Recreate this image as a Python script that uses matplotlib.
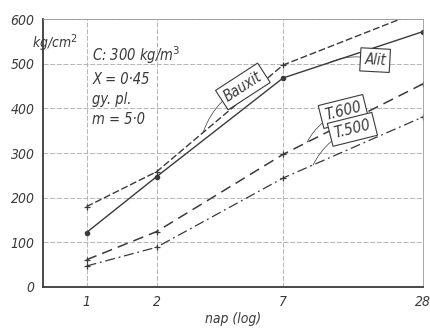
import numpy as np
import matplotlib.pyplot as plt

# napok (log skala)
days = [1, 2, 7, 28]
bauxit = [180, 258, 497, 620]
alit = [122, 247, 468, 572]
t600 = [61, 124, 297, 455]
t500 = [47, 89, 244, 381]

yticks = [0, 100, 200, 300, 400, 500, 600]
ink = '#3a3a3a'
fnt = dict(family='DejaVu Sans', style='italic', stretch='condensed', color=ink)

fig = plt.figure(figsize=(4.31, 3.28), dpi=100)
ax = fig.add_axes([0.0998, 0.125, 0.882, 0.817])

ax.plot(days, bauxit, color=ink, lw=1.0, dashes=(5, 2), marker='+', ms=5, mew=0.9)
ax.plot(days, alit, color=ink, lw=1.0, marker='o', ms=3)
ax.plot(days, t600, color=ink, lw=1.1, dashes=(7, 4), marker='+', ms=5, mew=0.9)
ax.plot(days, t500, color=ink, lw=0.9, dashes=(8, 3, 1.5, 3), marker='+', ms=5, mew=0.9)

ax.set_xscale('log')
ax.set_xlim(0.65, 28)
ax.set_ylim(0, 600)
ax.set_xticks(days)
ax.set_xticklabels(['1', '2', '7', '28'], **fnt, fontsize=10)
ax.minorticks_off()
ax.set_yticks(yticks)
ax.set_yticklabels([str(v) for v in yticks], **fnt, fontsize=10)
ax.tick_params(length=0, pad=6)
ax.grid(True, color='#aaaaaa', lw=0.6, ls=(0, (6, 2)))

for s in ['top', 'right']:
    ax.spines[s].set_color('#999999')
    ax.spines[s].set_linewidth(0.6)
for s in ['left', 'bottom']:
    ax.spines[s].set_color(ink)
    ax.spines[s].set_linewidth(1.3)

ax.set_xlabel('nap (log)', **fnt, fontsize=10, labelpad=2)
ax.text(-0.03, 0.95, 'kg/cm$^2$', transform=ax.transAxes, va='top', ha='left', fontsize=10, **fnt)

ax.text(0.13, 0.905, 'C: 300 kg/m$^3$\nX = 0·45\ngy. pl.\nm = 5·0', transform=ax.transAxes,
        va='top', ha='left', fontsize=10.5, linespacing=1.45, **fnt)

box = dict(boxstyle='square,pad=0.28', fc='white', ec=ink, lw=0.8)
arrow = dict(arrowstyle='-', color=ink, lw=0.5, connectionstyle='arc3,rad=0.2', shrinkA=0, shrinkB=0)
ax.annotate('Bauxit', xy=(3.17, 346), xytext=(4.7, 449), rotation=33, ha='center', va='center',
            fontsize=10.5, bbox=box, arrowprops=arrow, **fnt)
ax.annotate('Alit', xy=(10.9, 501), xytext=(17.4, 508), rotation=-3, ha='center', va='center',
            fontsize=10.5, bbox=box, arrowprops=arrow, **fnt)
ax.annotate('T.600', xy=(8.87, 324), xytext=(12.7, 393), rotation=14, ha='center', va='center',
            fontsize=11, bbox=box, arrowprops=arrow, **fnt)
ax.annotate('T.500', xy=(9.42, 273), xytext=(13.9, 353), rotation=14, ha='center', va='center',
            fontsize=11, bbox=box, arrowprops=arrow, **fnt)

fig.savefig('out.png', dpi=100)
